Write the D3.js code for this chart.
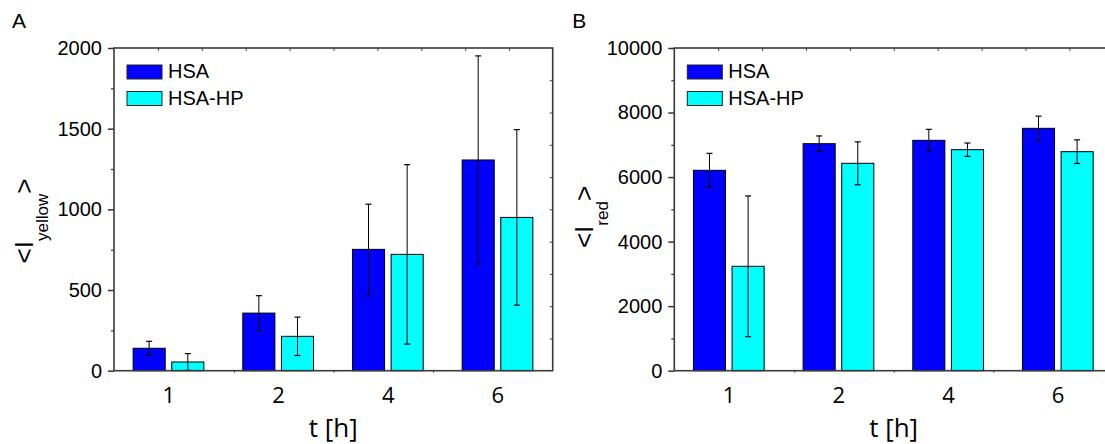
<!DOCTYPE html>
<html>
<head>
<meta charset="utf-8">
<script src="https://d3js.org/d3.v7.min.js"></script>
<style>
  body { margin: 0; background: #fff; }
  svg { display: block; }
  .ytick text { font: 20px "Liberation Sans", Arial, sans-serif; fill: #000; }
  .xtick text { font: 22px "Open Sans", sans-serif; fill: #000; }
</style>
</head>
<body>
<svg id="chart" width="1105" height="444"></svg>
<script>
// categories and series
const times = ["1", "2", "4", "6"];
const seriesNames = ["HSA", "HSA-HP"];
const seriesColors = ["#0000ff", "#00ffff"];

// panel A: <I_yellow>
const yellowHSA = [139, 357, 752, 1306];
const yellowHSAErr = [43, 108, 280, 645];
const yellowHP = [54, 213, 721, 950];
const yellowHPErr = [52, 119, 556, 544];
const yellowTicks = [0, 500, 1000, 1500, 2000];
const yellowMinor = [250, 750, 1250, 1750];
const yellowRight = [200, 400, 600, 800, 1000, 1200, 1400, 1600, 1800];

// panel B: <I_red>
const redHSA = [6210, 7035, 7139, 7511];
const redHSAErr = [525, 240, 340, 377];
const redHP = [3235, 6427, 6849, 6787];
const redHPErr = [2180, 665, 206, 366];
const redTicks = [0, 2000, 4000, 6000, 8000, 10000];
const redMinor = [1000, 3000, 5000, 7000, 9000];

const svg = d3.select("#chart");
const pw = 438.7, ph = 322.7, plotTop = 48;

function panel(opts) {
    const g = svg.append("g").attr("transform", "translate(" + opts.left + "," + plotTop + ")");

    const x = d3.scaleBand().domain(times).range([0, pw]).padding(0);
    const xs = d3.scaleBand().domain(seriesNames).range([-35.7, 35]).paddingInner(0.17);
    const y = d3.scaleLinear().domain([0, opts.max]).range([ph, 0]);

    const rows = [];
    times.forEach((t, i) => {
        rows.push({t: t, s: seriesNames[0], v: opts.a[i], e: opts.ae[i], c: seriesColors[0]});
        rows.push({t: t, s: seriesNames[1], v: opts.b[i], e: opts.be[i], c: seriesColors[1]});
    });

    // bars
    g.selectAll(".bar").data(rows).enter().append("rect")
        .attr("class", "bar")
        .attr("x", d => x(d.t) + x.bandwidth() / 2 + xs(d.s))
        .attr("width", xs.bandwidth())
        .attr("y", d => y(d.v))
        .attr("height", d => ph - y(d.v))
        .attr("fill", d => d.c)
        .attr("stroke", "#000")
        .attr("stroke-width", 1);

    // error bars
    const eb = g.selectAll(".err").data(rows).enter().append("g").attr("class", "err")
        .attr("transform", d => "translate(" + (x(d.t) + x.bandwidth() / 2 + xs(d.s) + xs.bandwidth() / 2) + ",0)");
    eb.append("line").attr("x1", 0).attr("x2", 0)
        .attr("y1", d => y(d.v + d.e)).attr("y2", d => y(Math.max(0, d.v - d.e)))
        .attr("stroke", "#000").attr("stroke-width", 1);
    eb.append("line").attr("x1", -3).attr("x2", 3)
        .attr("y1", d => y(d.v + d.e)).attr("y2", d => y(d.v + d.e))
        .attr("stroke", "#000").attr("stroke-width", 1.2);
    eb.append("line").attr("x1", -3).attr("x2", 3)
        .attr("y1", d => y(Math.max(0, d.v - d.e))).attr("y2", d => y(Math.max(0, d.v - d.e)))
        .attr("stroke", "#000").attr("stroke-width", 1.2);

    // left axis
    const ya = g.append("g").attr("class", "ytick")
        .call(d3.axisLeft(y).tickValues(opts.ticks).tickSize(6).tickPadding(6).tickFormat(d3.format("d")));
    ya.select(".domain").remove();
    ya.selectAll("line").attr("stroke", "#333").attr("stroke-width", 1.5);
    const ym = g.append("g")
        .call(d3.axisLeft(y).tickValues(opts.minor).tickSize(3).tickFormat(""));
    ym.select(".domain").remove();
    ym.selectAll("line").attr("stroke", "#333").attr("stroke-width", 1.2);

    // right axis ticks (inward)
    if (opts.right) {
        const yr = g.append("g")
            .call(d3.axisLeft(y).tickValues(opts.right).tickSize(3).tickFormat(""));
        yr.attr("transform", "translate(" + pw + ",0)");
        yr.select(".domain").remove();
        yr.selectAll("line").attr("x2", -3).attr("stroke", "#444");
    }

    // top ticks (inward)
    const xt = d3.scaleLinear().domain([0, 10]).range([0, 439]);
    const ta = g.append("g").call(d3.axisBottom(xt).tickValues(d3.range(1, 10)).tickSize(3).tickFormat(""));
    ta.select(".domain").remove();
    ta.selectAll("line").attr("stroke", "#444");

    // bottom axis with category labels
    const xa = g.append("g").attr("class", "xtick").attr("transform", "translate(0," + ph + ")")
        .call(d3.axisBottom(x).tickSize(0).tickPadding(17));
    xa.select(".domain").remove();
    const xb = d3.scaleLinear().domain([0, 4]).range([20.5, 418.5]);
    const bm = g.append("g").attr("transform", "translate(0," + ph + ")")
        .call(d3.axisBottom(xb).tickValues([1, 2, 3]).tickSize(2).tickFormat(""));
    bm.select(".domain").remove();
    bm.selectAll("line").attr("stroke", "#444");

    // frame
    g.append("rect").attr("x", 0).attr("y", 0).attr("width", pw).attr("height", ph)
        .attr("fill", "none").attr("stroke", "#3a3a3a").attr("stroke-width", 1.6);

    // x label
    g.append("text").attr("x", pw / 2).attr("y", 389)
        .attr("text-anchor", "middle")
        .style("font", "26px 'Open Sans', sans-serif")
        .text("t [h]");

    // y label
    const yl = svg.append("text")
        .attr("transform", "translate(" + (opts.left - 81) + "," + opts.labelY + ") rotate(-90)")
        .attr("text-anchor", "middle")
        .style("font-family", "'Liberation Sans', Arial, sans-serif")
        .style("font-size", "26px");
    yl.append("tspan").text("<I");
    yl.append("tspan").attr("dy", 15).style("font-size", "17px").text(opts.sub);
    yl.append("tspan").attr("dy", -15).text(">");

    // legend
    const lg = g.append("g").attr("transform", "translate(13,17)");
    const le = lg.selectAll("g").data(seriesNames).enter().append("g")
        .attr("transform", (d, i) => "translate(0," + (i * 26.5) + ")");
    le.append("rect").attr("width", 35).attr("height", 14)
        .attr("fill", (d, i) => seriesColors[i]).attr("stroke", "#222").attr("stroke-width", 1);
    le.append("text").attr("x", 41).attr("y", 13)
        .style("font", "20px 'Liberation Sans', Arial, sans-serif")
        .text(d => d);

    // panel letter
    svg.append("text").attr("x", opts.left - 102).attr("y", 28)
        .style("font", "21px 'Liberation Sans', Arial, sans-serif")
        .text(opts.letter);
}

panel({left: 114, letter: "A", max: 2000, a: yellowHSA, ae: yellowHSAErr, b: yellowHP, be: yellowHPErr,
       ticks: yellowTicks, minor: yellowMinor, right: yellowRight, sub: "yellow", labelY: 221});
panel({left: 674.3, letter: "B", max: 10000, a: redHSA, ae: redHSAErr, b: redHP, be: redHPErr,
       ticks: redTicks, minor: redMinor, right: null, sub: "red", labelY: 217});
</script>
</body>
</html>
